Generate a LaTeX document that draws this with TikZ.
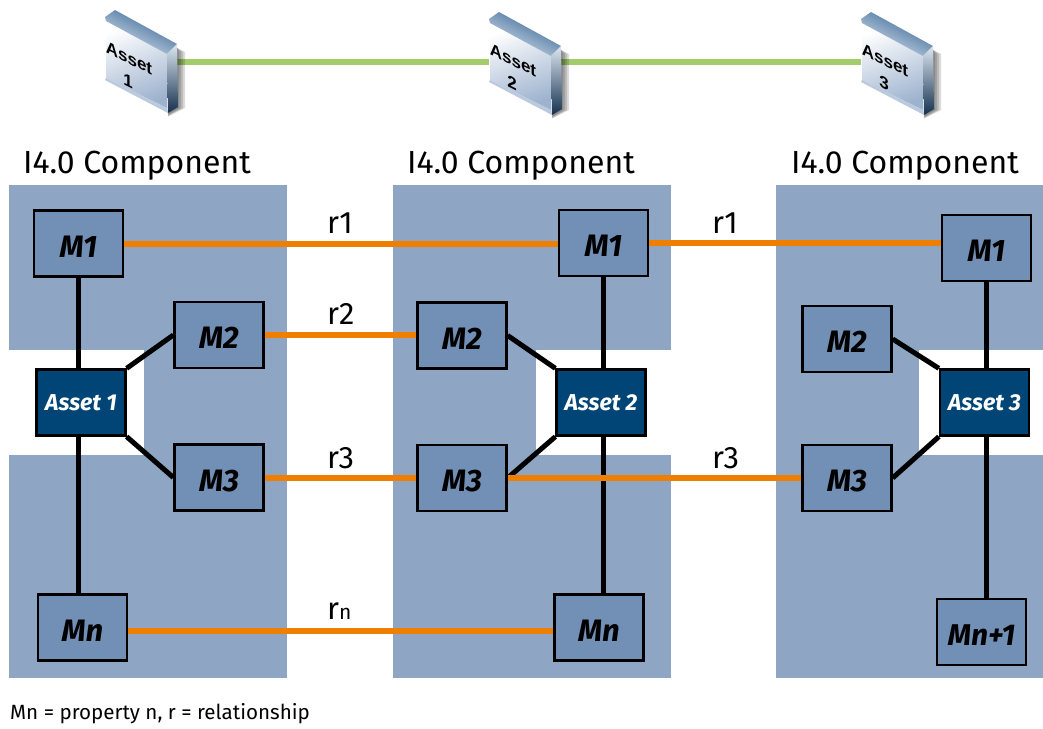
\documentclass[tikz,border=0pt]{standalone}
\usepackage{fontspec}
\setmainfont{Fira Sans}
\newfontfamily\iconfont{Liberation Sans}
\definecolor{panelblue}{HTML}{8FA5C4}
\definecolor{boxblue}{HTML}{7290B5}
\definecolor{assetblue}{HTML}{004575}
\definecolor{linkorange}{HTML}{EE7F00}
\definecolor{linkgreen}{HTML}{A5CC6B}
\definecolor{bevlight}{HTML}{DCE6F0}
\definecolor{bevdark}{HTML}{2C5C8E}
\definecolor{bevnavy}{HTML}{14304F}
\definecolor{facelow}{HTML}{9DB2CE}
\tikzset{
  mbox/.style={draw=black,line width=2.3pt,fill=boxblue,minimum width=89pt,minimum height=66pt,inner sep=0pt,text height=27pt,text depth=0pt,font=\fontsize{31}{31}\selectfont\bfseries\itshape},
  abox/.style={draw=black,line width=2.3pt,fill=assetblue,text=white,minimum width=89pt,minimum height=66pt,inner sep=0pt,font=\fontsize{23}{23}\selectfont\bfseries\itshape},
  bl/.style={draw=black,line width=5pt},
  ol/.style={draw=linkorange,line width=6pt},
  gl/.style={draw=linkgreen,line width=5.5pt},
  heading/.style={anchor=base,font=\fontsize{32}{32}\selectfont,inner sep=0pt},
  rel/.style={anchor=base west,font=\fontsize{31}{31}\selectfont,inner sep=0pt},
  iconanchor/.style={minimum width=72pt,minimum height=60pt,inner sep=0pt},
  icontext/.style={yslant=-0.5,inner sep=0pt,font=\iconfont\bfseries\fontsize{17}{17}\selectfont},
}
\newcommand{\panel}[1]{%
  \fill[panelblue] (#1,185) rectangle (#1+278,350);
  \fill[panelblue] (#1,455) rectangle (#1+278,678);
}
\newcommand{\icon}[5]{% x, y, name, word, number
  \begin{scope}[shift={(#1,#2)}]
    \foreach \w in {2,4,6,8}{
      \fill[black,opacity=.14] (72,38) -- (72+\w,42) -- (72+\w,98) -- (63,104+\w/3) -- cycle;
    }
    \shade[top color=white,bottom color=facelow,shading angle=20] (1,11) -- (63,44) -- (62,98) -- (1,68) -- cycle;
    \shade[top color=bevdark,bottom color=bevlight,shading angle=-27] (0,7) -- (10,0) -- (72,34) -- (62,44) -- (1,11) -- cycle;
    \shade[top color=bevlight,middle color=bevdark,bottom color=bevnavy] (62,44) -- (72,34) -- (73,97) -- (63,103) -- cycle;
    \fill[facelow!70!white] (1,68) -- (62,98) -- (63,103) -- (0,70) -- cycle;
    \node[icontext] (#3w) at (24,48) {#4};
    \node[icontext] (#3n) at (23,71) {#5};
  \end{scope}
}
\begin{document}
\begin{tikzpicture}[x=1pt,y=-1pt]
\useasboundingbox (0,0) rectangle (1043,728);
\fill[white] (0,0) rectangle (1043,728);
% panels
\panel{9}
\fill[panelblue] (144,350) rectangle (287,455);
\panel{393}
\fill[panelblue] (393,350) rectangle (536,455);
\fill[panelblue] (776,185) rectangle (1043,350);
\fill[panelblue] (776,455) rectangle (1043,678);
\fill[panelblue] (776,350) rectangle (919,455);
% headings
\node[heading] (h1) at (137,173) {I4.0 Component};
\node[heading] (h2) at (521,173) {I4.0 Component};
\node[heading] (h3) at (905,173) {I4.0 Component};
% icons
\node[iconanchor] (i1) at (141,62) {};
\node[iconanchor] (i2) at (525,62) {};
\node[iconanchor] (i3) at (897,62) {};
\draw[gl] (i1.east) -- (i2.west);
\draw[gl] (i2.east) -- (i3.west);
\icon{105}{10}{ia}{Asset}{1}
\icon{489}{12}{ib}{Asset}{2}
\icon{861}{12}{ic}{Asset}{3}
% boxes
\node[mbox] (a1) at (78.5,243.5) {M1};
\node[mbox] (b1) at (219,335) {M2};
\node[abox] (c1) at (81,402.5) {Asset 1};
\node[mbox] (d1) at (219,477.5) {M3};
\node[mbox] (e1) at (82.5,627.5) {Mn};
\node[mbox] (a2) at (603.5,243) {M1};
\node[mbox] (b2) at (462,335.5) {M2};
\node[abox] (c2) at (601,402.5) {Asset 2};
\node[mbox] (d2) at (462,478) {M3};
\node[mbox] (e2) at (599,627.5) {Mn};
\node[mbox] (a3) at (986.5,248) {M1};
\node[mbox] (b3) at (847,339) {M2};
\node[abox] (c3) at (984.5,402.5) {Asset 3};
\node[mbox] (d3) at (847,478) {M3};
\node[mbox,font=\fontsize{30}{30}\selectfont\bfseries\itshape] (e3) at (981.5,632) {Mn+1};
% black links
\draw[bl] (a1.south) -- (a1|-c1.north);
\draw[bl] (c1.north east) -- (b1.west);
\draw[bl] (c1.south east) -- (d1.west);
\draw[bl] (a1|-c1.south) -- (a1|-e1.north);
\draw[bl] (a2.south) -- (a2|-c2.north);
\draw[bl] (b2.east) -- (c2.north west);
\draw[bl] (d2.east) -- (c2.south west);
\draw[bl] (a2|-c2.south) -- (a2|-e2.north);
\draw[bl] (a3.south) -- (a3|-c3.north);
\draw[bl] (b3.east) -- (c3.north west);
\draw[bl] (d3.east) -- (c3.south west);
\draw[bl] (a3|-c3.south) -- (a3|-e3.north);
% orange links
\draw[ol] (a1.east) -- (a1.east-|a2.west);
\draw[ol] (a2.east) -- (a2.east-|a3.west);
\draw[ol] (b1.east) -- (b1.east-|b2.west);
\draw[ol] (d1.east) -- (d1.east-|d2.west);
\draw[ol] (d2.east) -- (d2.east-|d3.west);
\draw[ol] ([yshift=-3pt]e1.east) -- ([yshift=-3pt]e2.west);
% labels
\node[rel] (r1a) at (327,233) {r1};
\node[rel] (r1b) at (712,233) {r1};
\node[rel] (r2) at (327,324) {r2};
\node[rel] (r3a) at (327,468) {r3};
\node[rel] (r3b) at (712,468) {r3};
\node[rel] (rn) at (327,619) {r{\fontsize{21}{21}\selectfont n}};
\node[anchor=base west,inner sep=0pt,font=\fontsize{20.6}{21}\selectfont] (note) at (10,719) {Mn = property n, r = relationship};
\end{tikzpicture}
\end{document}
